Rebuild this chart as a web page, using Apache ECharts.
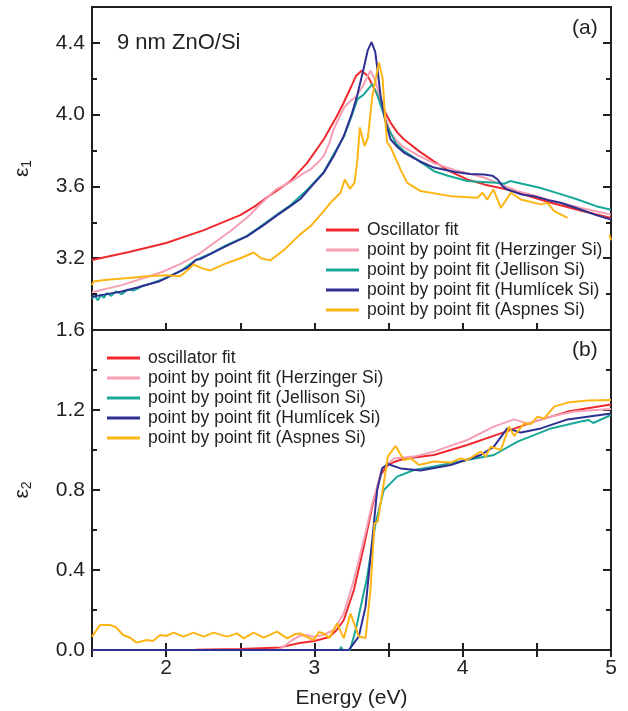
<!DOCTYPE html>
<html>
<head>
<meta charset="utf-8">
<script src="https://cdn.jsdelivr.net/npm/echarts@6/dist/echarts.min.js"></script>
<style>html,body{margin:0;padding:0;background:#fff}#c{width:628px;height:711px}</style>
</head>
<body>
<div id="c"></div>
<script>
// ---------- data (Energy in eV, value) ----------
const legendTop = ['Oscillator fit','point by point fit (Herzinger Si)','point by point fit (Jellison Si)','point by point fit (Humlícek Si)','point by point fit (Aspnes Si)'];
const legendBottom = ['oscillator fit','point by point fit (Herzinger Si)','point by point fit (Jellison Si)','point by point fit (Humlícek Si)','point by point fit (Aspnes Si)'];
const xTickLabels = [2,3,4,5];
const e1TickLabels = [3.2,3.6,4.0,4.4];
const e2TickLabels = [0.0,0.4,0.8,1.2,1.6];

const e1Osc = [[1.5,3.19],[1.75,3.235],[2.0,3.285],[2.25,3.355],[2.5,3.44],[2.6,3.49],[2.7,3.55],[2.838,3.63],[2.95,3.73],[3.063,3.863],[3.15,3.99],[3.198,4.068],[3.25,4.16],[3.28,4.215],[3.318,4.245],[3.36,4.215],[3.417,4.124],[3.46,4.04],[3.513,3.956],[3.56,3.9],[3.603,3.863],[3.705,3.797],[3.806,3.74],[3.9,3.69],[4.03,3.639],[4.15,3.61],[4.302,3.583],[4.45,3.545],[4.595,3.509],[4.8,3.465],[5.0,3.425]];
const e1Herz = [[1.5,3.01],[1.7,3.05],[1.85,3.09],[1.982,3.126],[2.1,3.17],[2.23,3.229],[2.33,3.29],[2.432,3.35],[2.55,3.43],[2.657,3.518],[2.74,3.583],[2.84,3.625],[2.92,3.67],[2.973,3.695],[3.02,3.73],[3.063,3.77],[3.1,3.84],[3.13,3.919],[3.17,3.99],[3.2,4.04],[3.243,4.077],[3.28,4.1],[3.32,4.15],[3.35,4.2],[3.378,4.245],[3.41,4.19],[3.45,4.08],[3.48,3.98],[3.513,3.9],[3.56,3.85],[3.6,3.82],[3.705,3.77],[3.806,3.73],[3.95,3.69],[4.144,3.65],[4.26,3.61],[4.37,3.574],[4.5,3.545],[4.6,3.52],[4.8,3.48],[5.0,3.443]];
const e1Jell = [[1.5,2.975],[1.52,2.99],[1.54,2.965],[1.56,2.995],[1.58,2.98],[1.6,3.005],[1.63,2.99],[1.66,3.015],[1.7,3.0],[1.74,3.025],[1.78,3.02],[1.84,3.045],[1.9,3.06],[2.0,3.09],[2.1,3.13],[2.2,3.19],[2.3,3.225],[2.4,3.27],[2.545,3.325],[2.65,3.385],[2.75,3.445],[2.838,3.495],[2.95,3.58],[3.063,3.68],[3.13,3.78],[3.2,3.88],[3.25,3.99],[3.29,4.087],[3.33,4.11],[3.36,4.14],[3.39,4.17],[3.42,4.12],[3.46,4.02],[3.49,3.937],[3.55,3.84],[3.6,3.8],[3.7,3.745],[3.806,3.685],[3.9,3.66],[4.03,3.63],[4.13,3.625],[4.23,3.62],[4.28,3.615],[4.32,3.63],[4.4,3.615],[4.52,3.593],[4.65,3.56],[4.775,3.527],[4.9,3.49],[5.0,3.47]];
const e1Huml = [[1.5,2.985],[1.6,3.0],[1.7,3.015],[1.8,3.035],[1.87,3.052],[1.95,3.07],[2.05,3.11],[2.15,3.15],[2.2,3.19],[2.23,3.195],[2.35,3.245],[2.45,3.285],[2.545,3.322],[2.65,3.38],[2.75,3.44],[2.838,3.49],[2.905,3.53],[2.98,3.6],[3.063,3.677],[3.13,3.77],[3.198,3.881],[3.25,4.0],[3.288,4.105],[3.33,4.25],[3.36,4.36],[3.385,4.404],[3.41,4.35],[3.43,4.22],[3.446,4.105],[3.48,3.96],[3.513,3.863],[3.56,3.82],[3.603,3.789],[3.705,3.742],[3.806,3.705],[3.95,3.68],[4.05,3.67],[4.144,3.667],[4.2,3.66],[4.234,3.64],[4.27,3.6],[4.3,3.583],[4.4,3.555],[4.48,3.546],[4.57,3.525],[4.66,3.509],[4.8,3.47],[4.9,3.44],[5.0,3.415]];
const e1Asp = [[1.5,3.05],[1.51,3.07],[1.6,3.08],[1.75,3.09],[1.87,3.1],[2.0,3.105],[2.095,3.1],[2.14,3.13],[2.185,3.165],[2.24,3.145],[2.297,3.132],[2.4,3.17],[2.5,3.2],[2.59,3.232],[2.64,3.2],[2.703,3.188],[2.8,3.25],[2.9,3.33],[2.973,3.378],[3.05,3.45],[3.108,3.509],[3.176,3.565],[3.205,3.639],[3.239,3.587],[3.27,3.62],[3.29,3.75],[3.306,3.928],[3.338,3.826],[3.36,3.87],[3.39,4.1],[3.435,4.29],[3.46,4.2],[3.475,4.0],[3.49,3.845],[3.513,3.82],[3.58,3.695],[3.626,3.62],[3.716,3.574],[3.919,3.546],[4.1,3.537],[4.133,3.565],[4.166,3.527],[4.207,3.583],[4.257,3.48],[4.324,3.565],[4.392,3.527],[4.527,3.5],[4.572,3.509],[4.617,3.462],[4.707,3.425],[4.99,null],[4.99,3.33],[5.0,3.3]];

const e2Osc = [[1.5,0],[2.2,0.001],[2.5,0.005],[2.77,0.013],[2.9,0.035],[3.0,0.045],[3.1,0.065],[3.15,0.1],[3.198,0.15],[3.266,0.3],[3.333,0.517],[3.39,0.717],[3.446,0.875],[3.49,0.92],[3.536,0.94],[3.6,0.955],[3.671,0.962],[3.806,0.975],[4.03,1.025],[4.257,1.083],[4.482,1.142],[4.707,1.192],[5.0,1.228]];
const e2Herz = [[1.5,0],[2.75,0],[2.8,0.02],[2.85,0.05],[2.9,0.07],[2.95,0.075],[3.0,0.065],[3.06,0.075],[3.13,0.1],[3.198,0.183],[3.266,0.35],[3.333,0.55],[3.39,0.733],[3.457,0.908],[3.536,0.958],[3.671,0.967],[3.806,0.992],[4.03,1.05],[4.21,1.117],[4.345,1.153],[4.437,1.133],[4.595,1.167],[4.752,1.192],[5.0,1.205]];
const e2Jell = [[1.5,0],[3.17,0],[3.18,0.015],[3.19,0],[3.24,0],[3.266,0.067],[3.288,0.133],[3.356,0.367],[3.412,0.633],[3.468,0.8],[3.558,0.867],[3.671,0.9],[3.806,0.917],[4.03,0.95],[4.21,0.975],[4.37,1.042],[4.595,1.108],[4.797,1.142],[4.85,1.15],[4.88,1.135],[5.0,1.175]];
const e2Huml = [[1.5,0],[3.232,0],[3.299,0.067],[3.345,0.217],[3.39,0.55],[3.423,0.8],[3.457,0.908],[3.495,0.93],[3.581,0.908],[3.716,0.897],[3.919,0.925],[4.122,0.975],[4.21,1.017],[4.3,1.108],[4.392,1.087],[4.527,1.108],[4.707,1.153],[5.0,1.183]];
const e2Asp = [[1.5,0.067],[1.554,0.125],[1.62,0.125],[1.66,0.115],[1.71,0.075],[1.76,0.06],[1.8,0.037],[1.87,0.05],[1.91,0.045],[1.96,0.075],[2.0,0.07],[2.05,0.087],[2.117,0.067],[2.185,0.087],[2.252,0.067],[2.32,0.087],[2.41,0.067],[2.478,0.083],[2.523,0.058],[2.59,0.087],[2.658,0.062],[2.748,0.092],[2.816,0.058],[2.87,0.08],[2.905,0.083],[2.95,0.065],[2.995,0.05],[3.03,0.09],[3.07,0.08],[3.1,0.06],[3.153,0.133],[3.198,0.058],[3.243,0.183],[3.3,0.067],[3.345,0.06],[3.378,0.3],[3.405,0.633],[3.427,0.642],[3.457,0.783],[3.495,0.967],[3.547,1.02],[3.603,0.95],[3.649,0.958],[3.705,0.925],[3.806,0.942],[3.919,0.937],[3.986,0.958],[4.03,0.95],[4.122,0.992],[4.155,0.967],[4.189,1.017],[4.257,1.0],[4.313,1.117],[4.347,1.07],[4.414,1.133],[4.46,1.13],[4.504,1.167],[4.55,1.158],[4.617,1.217],[4.707,1.237],[4.842,1.247],[5.0,1.25]];

// ---------- styling ----------
const colors = ['#ee2a2e','#f5a0b5','#19a797','#2e3192','#fdb515'];
const FONT = '"Liberation Sans", Arial, Helvetica, sans-serif';
const frame = '#231f20';

const chart = echarts.init(document.getElementById('c'), null, {renderer:'canvas'});

function xAx(grid, pos, showLabel, extra){
  return Object.assign({
    type:'value', gridIndex:grid, position:pos, min:1.5, max:5, interval:0.5,
    axisLine:{show:false},
    axisTick:{show:true, inside:true, length:7, lineStyle:{color:frame, width:2}},
    splitLine:{show:false},
    axisLabel:{show:showLabel, color:'#231f20', fontSize:21, fontFamily:FONT, margin:8,
      formatter: v => xTickLabels.some(t=>Math.abs(t-v)<1e-6) ? String(Math.round(v)) : ''}
  }, extra||{});
}
function yAx(grid, pos, min, max, labels, showLabel, extra){
  return Object.assign({
    type:'value', gridIndex:grid, position:pos, min:min, max:max, interval:0.4,
    axisLine:{show:false},
    axisTick:{show:true, inside:true, length:8, lineStyle:{color:frame, width:2}},
    minorTick:{show:true, splitNumber:2, length:5, lineStyle:{color:frame, width:2}},
    splitLine:{show:false}, minorSplitLine:{show:false},
    axisLabel:{show:showLabel, color:'#231f20', fontSize:21, fontFamily:FONT, margin:7,
      formatter: v => labels.some(t=>Math.abs(t-v)<1e-6) ? v.toFixed(1) : ''}
  }, extra||{});
}

function mkSeries(data, i, name, xi, yi){
  return {type:'line', name:name, data:data, xAxisIndex:xi, yAxisIndex:yi, showSymbol:false,
    connectNulls:false, lineStyle:{width:2, color:colors[i]}, itemStyle:{color:colors[i]}, z:2+i, animation:false};
}

const option = {
  animation:false,
  textStyle:{fontFamily:FONT},
  grid:[
    {left:92, top:7, width:519, height:323, show:true, borderColor:frame, borderWidth:2, backgroundColor:'transparent'},
    {left:92, top:330, width:519, height:320, show:true, borderColor:frame, borderWidth:2, backgroundColor:'transparent'}
  ],
  xAxis:[
    xAx(0,'bottom',false),
    xAx(1,'top',false),
    xAx(1,'bottom',true,{name:'Energy (eV)', nameLocation:'middle', nameGap:38,
      nameTextStyle:{fontSize:21, color:'#231f20', fontFamily:FONT}})
  ],
  yAxis:[
    yAx(0,'left',2.8,4.6,e1TickLabels,true,{name:'{a|ε}{b|1}', nameLocation:'middle', nameGap:58, nameRotate:90,
      nameTextStyle:{rich:{a:{fontSize:21,color:'#231f20',fontFamily:FONT}, b:{fontSize:14,color:'#231f20',fontFamily:FONT, padding:[10,0,0,0]}}}}),
    yAx(0,'right',2.8,4.6,e1TickLabels,false),
    yAx(1,'left',0,1.6,e2TickLabels,true,{name:'{a|ε}{b|2}', nameLocation:'middle', nameGap:58, nameRotate:90,
      nameTextStyle:{rich:{a:{fontSize:21,color:'#231f20',fontFamily:FONT}, b:{fontSize:14,color:'#231f20',fontFamily:FONT, padding:[10,0,0,0]}}}}),
    yAx(1,'right',0,1.6,e2TickLabels,false)
  ],
  legend:[
    {data:legendTop, orient:'vertical', left:321, top:215, itemGap:0, itemWidth:33, itemHeight:3, icon:'rect',
      textStyle:{fontSize:17.5, color:'#231f20', fontFamily:FONT, lineHeight:20, padding:[0,0,0,3]}, selectedMode:false},
    {data:legendBottom, orient:'vertical', left:102, top:343, itemGap:0, itemWidth:33, itemHeight:3, icon:'rect',
      textStyle:{fontSize:17.5, color:'#231f20', fontFamily:FONT, lineHeight:20, padding:[0,0,0,3]}, selectedMode:false}
  ],
  graphic:[
    {type:'text', left:117, top:32, style:{text:'9 nm ZnO/Si', font:'22px '+FONT, fill:'#231f20'}},
    {type:'text', left:572, top:18, style:{text:'(a)', font:'21px '+FONT, fill:'#231f20'}},
    {type:'text', left:572, top:340, style:{text:'(b)', font:'21px '+FONT, fill:'#231f20'}}
  ],
  series:[
    mkSeries(e1Osc,0,legendTop[0],0,0),
    mkSeries(e1Herz,1,legendTop[1],0,0),
    mkSeries(e1Jell,2,legendTop[2],0,0),
    mkSeries(e1Huml,3,legendTop[3],0,0),
    mkSeries(e1Asp,4,legendTop[4],0,0),
    mkSeries(e2Osc,0,legendBottom[0],2,2),
    mkSeries(e2Herz,1,legendBottom[1],2,2),
    mkSeries(e2Jell,2,legendBottom[2],2,2),
    mkSeries(e2Huml,3,legendBottom[3],2,2),
    mkSeries(e2Asp,4,legendBottom[4],2,2)
  ]
};
chart.setOption(option);
</script>
</body>
</html>
